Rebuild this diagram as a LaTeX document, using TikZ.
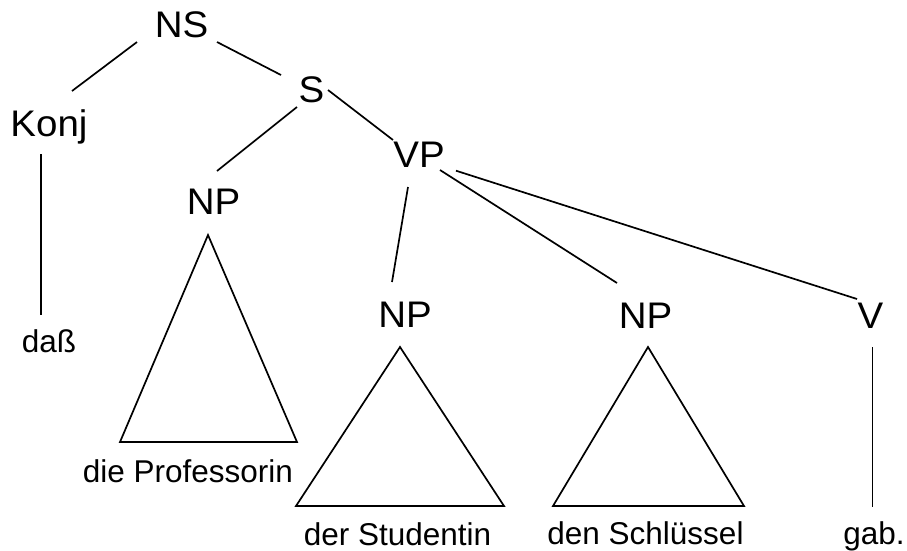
\documentclass[tikz,border=0pt]{standalone}
\usepackage{fontspec}
\setmainfont{Liberation Sans}
\newfontfamily\catfont[FakeStretch=1.04]{Liberation Sans}
\newfontfamily\wordfont{Liberation Sans}
\begin{document}
\begin{tikzpicture}[x=1pt,y=-1pt,
  cat/.style={anchor=base,inner sep=0pt,font=\catfont\fontsize{37}{37}\selectfont},
  word/.style={anchor=base,inner sep=0pt,font=\wordfont\fontsize{31.5}{33}\selectfont},
  branch/.style={line width=1.7pt},
  tri/.style={line width=1.7pt,line join=miter}]
\useasboundingbox (0,0) rectangle (907,550);

% category labels
\node[cat] (ns)   at (181.5,37.5) {NS};
\node[cat] (konj) at (49,136)     {Konj};
\node[cat] (s)    at (311.5,102)  {S};
\node[cat] (vp)   at (419,167.3)  {VP};
\node[cat] (npa)  at (213.5,214)  {NP};
\node[cat] (npb)  at (405,327)    {NP};
\node[cat] (npc)  at (645.5,328)  {NP};
\node[cat] (v)    at (870.5,328)  {V};

% terminal words
\node[word] (dass) at (49,352)    {daß};
\node[word] (prof) at (188,482)   {die Professorin};
\node[word] (stud) at (397.5,545) {der Studentin};
\node[word] (schl) at (645.5,544) {den Schlüssel};
\node[word] (gab)  at (874,544)   {gab.};

% branches
\draw[branch] ([shift={(-44.5,4.5)}]ns.base) -- ([shift={(23,-45)}]konj.base);
\draw[branch] ([shift={(35.5,4.5)}]ns.base) -- ([shift={(-30.5,-27)}]s.base);
\draw[branch] ([shift={(-14.5,5)}]s.base) -- ([shift={(3.5,-43)}]npa.base);
\draw[branch] ([shift={(16.5,-12)}]s.base) -- ([shift={(-26,-27.3)}]vp.base);
\draw[branch] ([shift={(-11,19.7)}]vp.base) -- ([shift={(-13,-45)}]npb.base);
\draw[branch] ([shift={(21,2.7)}]vp.base) -- ([shift={(-28.5,-45)}]npc.base);
\draw[branch] ([shift={(37,3.4)}]vp.base) -- ([shift={(-13.5,-29)}]v.base);
\draw[branch] ([shift={(-8,18)}]konj.base) -- ([shift={(-8,-37)}]dass.base);
\draw[branch] ([shift={(2,19)}]v.base) -- ([shift={(-1.5,-37)}]gab.base);

% collapsed NP subtrees
\coordinate (tria) at (208,235);
\coordinate (trib) at (400,347);
\coordinate (tric) at (648,347);
\draw[tri] (tria) -- ++(-88,207) -- ++(177,0) -- cycle;
\draw[tri] (trib) -- ++(-104,159) -- ++(208,0) -- cycle;
\draw[tri] (tric) -- ++(-95,159) -- ++(191,0) -- cycle;
\end{tikzpicture}
\end{document}
